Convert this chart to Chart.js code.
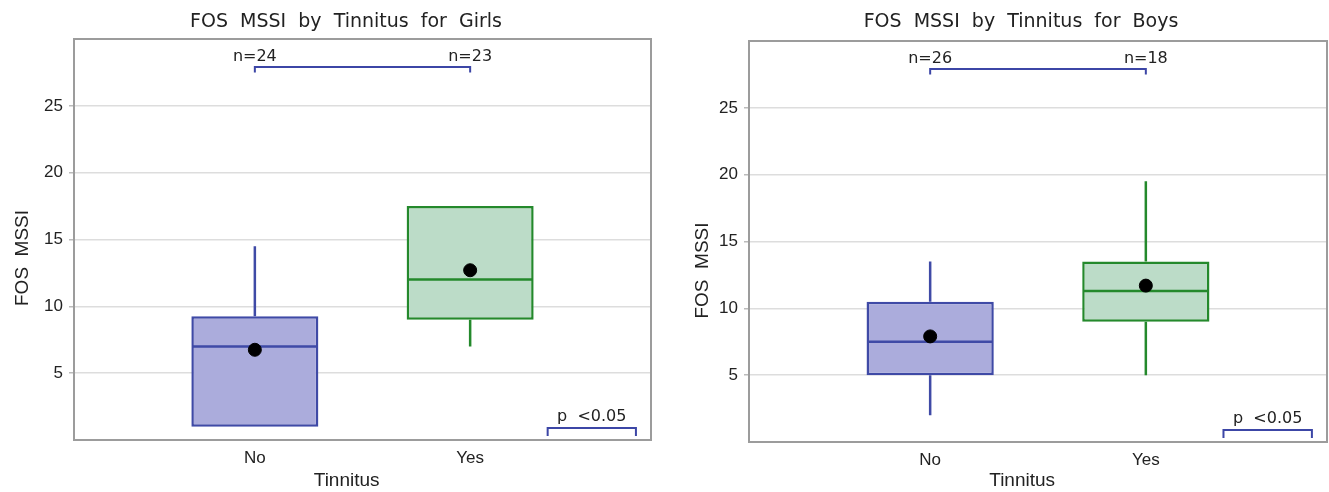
<!DOCTYPE html>
<html>
<head>
<meta charset="utf-8">
<script src="https://cdn.jsdelivr.net/npm/chart.js@4.4.1/dist/chart.umd.min.js"></script>
<style>
body{margin:0;background:#fff;width:1329px;height:492px;position:relative;overflow:hidden}
.wrap{position:absolute;top:0;height:492px}
</style>
</head>
<body>
<div class="wrap" style="left:0;width:692px"><canvas id="girls" width="692" height="492"></canvas></div>
<div class="wrap" style="left:680px;width:682px"><canvas id="boys" width="682" height="492"></canvas></div>
<script>
// categories
var groups = ["No", "Yes"];
var groupX = [1, 2];

// girls
var girlsQ1 = [1, 9];
var girlsQ3 = [9.25, 17.5];
var girlsMedian = [7, 12];
var girlsMean = [6.75, 12.7];
var girlsMin = [1, 7];
var girlsMax = [14.5, 17.5];
var girlsN = [24, 23];

// boys
var boysQ1 = [5, 9];
var boysQ3 = [10.5, 13.5];
var boysMedian = [7.5, 11.3];
var boysMean = [7.9, 11.7];
var boysMin = [2, 5];
var boysMax = [13.5, 19.5];
var boysN = [26, 18];

var yTicks = [5, 10, 15, 20, 25];
var pText = "p  <0.05";

// annotation spots in data units
var nBracketY = 27.9;
var nTextY = 28.35;
var pBracketX = [2.36, 2.77];
var pBracketY = 0.9;
var pTextY = 1.4;

var fillColors = ["#abacdc", "#bcdcc8"];
var lineColors = ["#3f4aa6", "#24892c"];
var bracketColor = "#3c46a6";
var fontFam = "'Liberation Sans', Arial, sans-serif";
var wideFam = "'DejaVu Sans', Verdana, sans-serif";
var textColor = "#222";

function pad(s, k) { return s + new Array(k + 1).join(" "); }

var boxParts = {
  id: "boxParts",
  afterDatasetDraw: function(chart, args) {
    if (args.meta.type !== "bar") return;
    var st = chart.options.plugins.boxParts;
    var ctx = chart.ctx, y = chart.scales.y;
    ctx.save();
    ctx.lineWidth = 2.5;
    args.meta.data.forEach(function(bar, i) {
      var p = bar.getProps(["x", "width"], true);
      var half = p.width / 2;
      ctx.strokeStyle = lineColors[i];
      ctx.beginPath();
      var ym = y.getPixelForValue(st.median[i]);
      ctx.moveTo(p.x - half + 1, ym);
      ctx.lineTo(p.x + half - 1, ym);
      if (st.max[i] > st.q3[i]) {
        ctx.moveTo(p.x, y.getPixelForValue(st.q3[i]));
        ctx.lineTo(p.x, y.getPixelForValue(st.max[i]));
      }
      if (st.min[i] < st.q1[i]) {
        ctx.moveTo(p.x, y.getPixelForValue(st.q1[i]));
        ctx.lineTo(p.x, y.getPixelForValue(st.min[i]));
      }
      ctx.stroke();
    });
    ctx.restore();
  },
  afterDraw: function(chart) {
    var st = chart.options.plugins.boxParts;
    var ctx = chart.ctx, x = chart.scales.x, y = chart.scales.y, a = chart.chartArea;
    ctx.save();
    // frame
    ctx.strokeStyle = "#9c9c9c";
    ctx.lineWidth = 2;
    ctx.strokeRect(a.left, a.top, a.right - a.left, a.bottom - a.top);

    // n bracket
    ctx.strokeStyle = bracketColor;
    ctx.lineWidth = 2;
    var x1 = x.getPixelForValue(groupX[0]), x2 = x.getPixelForValue(groupX[1]);
    var yb = y.getPixelForValue(nBracketY), yt = y.getPixelForValue(nBracketY - 0.4);
    ctx.beginPath();
    ctx.moveTo(x1, yt); ctx.lineTo(x1, yb); ctx.lineTo(x2, yb); ctx.lineTo(x2, yt);
    ctx.stroke();

    // p bracket
    var px1 = x.getPixelForValue(pBracketX[0]), px2 = x.getPixelForValue(pBracketX[1]);
    var pyb = y.getPixelForValue(pBracketY), pyt = y.getPixelForValue(pBracketY - 0.6);
    ctx.beginPath();
    ctx.moveTo(px1, pyt); ctx.lineTo(px1, pyb); ctx.lineTo(px2, pyb); ctx.lineTo(px2, pyt);
    ctx.stroke();

    ctx.fillStyle = textColor;
    ctx.font = "16px " + wideFam;
    ctx.textAlign = "center";
    ctx.textBaseline = "alphabetic";
    groupX.forEach(function(v, i) {
      ctx.fillText("n=" + st.n[i], x.getPixelForValue(v), y.getPixelForValue(nTextY));
    });
    ctx.fillText(pText, (px1 + px2) / 2, y.getPixelForValue(pTextY));
    ctx.restore();
  }
};

function makeChart(id, title, st, lay) {
  return new Chart(document.getElementById(id), {
    type: "bar",
    data: {
      datasets: [
        {
          type: "scatter",
          yAxisID: "y",
          data: groupX.map(function(v, i) { return {x: v, y: st.mean[i]}; }),
          pointRadius: 6.5,
          pointHoverRadius: 6.5,
          backgroundColor: "#000",
          borderColor: "#000",
          order: 1
        },
        {
          type: "bar",
          yAxisID: "y",
          data: groupX.map(function(v, i) { return {x: v, y: [st.q1[i], st.q3[i]]}; }),
          backgroundColor: fillColors,
          borderColor: lineColors,
          borderWidth: 2.5,
          borderSkipped: false,
          categoryPercentage: 0.59,
          barPercentage: 1,
          order: 2
        }
      ]
    },
    options: {
      responsive: false,
      animation: false,
      events: [],
      layout: {padding: 0},
      plugins: {
        legend: {display: false},
        tooltip: {enabled: false},
        title: {
          display: true,
          text: title,
          color: textColor,
          font: {family: wideFam, size: 19, weight: "normal"},
          padding: {top: 11, bottom: lay.titleBottom}
        },
        boxParts: st
      },
      scales: {
        x: {
          type: "linear",
          offset: false,
          min: 0.16,
          max: 2.84,
          afterBuildTicks: function(s) { s.ticks = groupX.map(function(v) { return {value: v}; }); },
          afterFit: function(s) { s.height = lay.xHeight; },
          ticks: {
            callback: function(v) { return groups[groupX.indexOf(v)]; },
            color: textColor,
            font: {family: fontFam, size: 17},
            padding: 0,
            autoSkip: false,
            maxRotation: 0
          },
          grid: {display: false, offset: false},
          border: {display: false},
          title: {
            display: true,
            text: pad("Tinnitus", 6),
            color: textColor,
            font: {family: fontFam, size: 19},
            padding: {top: 0, bottom: 0}
          }
        },
        y: {
          min: 0,
          max: 30,
          afterBuildTicks: function(s) { s.ticks = yTicks.map(function(v) { return {value: v}; }); },
          afterFit: function(s) { s.width = lay.yWidth; },
          ticks: {
            color: textColor,
            font: {family: fontFam, size: 17},
            padding: 6
          },
          grid: {color: "#dddddd", lineWidth: 1.5, tickLength: 5, tickColor: "#bbbbbb"},
          border: {display: false},
          title: {
            display: true,
            text: pad("FOS  MSSI", lay.yTitleShift),
            color: textColor,
            font: {family: fontFam, size: 19},
            padding: {top: 11, bottom: 0}
          }
        },
        // empty right-hand strip so the title centres like the original
        yr: {
          axis: "y",
          position: "right",
          display: true,
          ticks: {display: false},
          grid: {display: false},
          border: {display: false},
          afterFit: function(s) { s.width = lay.rightGap; }
        }
      }
    },
    plugins: [boxParts]
  });
}

makeChart("girls", "FOS  MSSI  by  Tinnitus  for  Girls",
  {q1: girlsQ1, q3: girlsQ3, median: girlsMedian, mean: girlsMean, min: girlsMin, max: girlsMax, n: girlsN},
  {yWidth: 74, rightGap: 41, titleBottom: 5.2, xHeight: 52, yTitleShift: 7});

makeChart("boys", "FOS  MSSI  by  Tinnitus  for  Boys",
  {q1: boysQ1, q3: boysQ3, median: boysMedian, mean: boysMean, min: boysMin, max: boysMax, n: boysN},
  {yWidth: 69, rightGap: 35, titleBottom: 7.2, xHeight: 50, yTitleShift: 11});
</script>
</body>
</html>
